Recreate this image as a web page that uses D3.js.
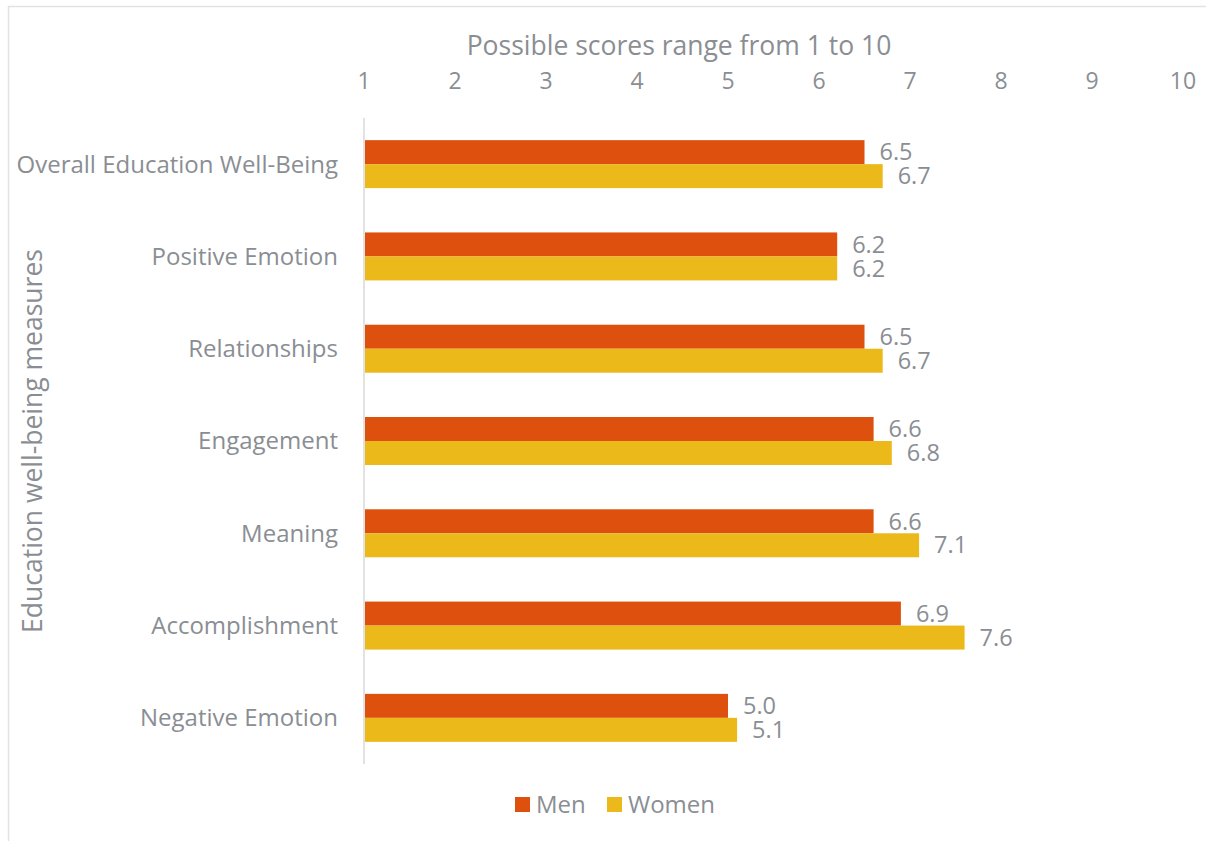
<!DOCTYPE html>
<html>
<head>
<meta charset="utf-8">
<script src="https://cdn.jsdelivr.net/npm/d3@7"></script>
<style>
  body { margin: 0; background: #fff; }
  svg { display: block; font-family: "Open Sans", sans-serif; }
  .lbl { fill: #8a8e93; }
</style>
</head>
<body>
<svg class="graphic" width="1206" height="841"></svg>
<script>
const categories = ["Overall Education Well-Being", "Positive Emotion", "Relationships",
  "Engagement", "Meaning", "Accomplishment", "Negative Emotion"];
const men = [6.5, 6.2, 6.5, 6.6, 6.6, 6.9, 5.0];
const women = [6.7, 6.2, 6.7, 6.8, 7.1, 7.6, 5.1];
const ticks = [1, 2, 3, 4, 5, 6, 7, 8, 9, 10];
const seriesNames = ["Men", "Women"];
const colors = ["#de500d", "#ebb91a"];

const $svg = d3.select('.graphic');

// outer frame
$svg.append('rect')
  .attr('x', 8.5).attr('y', 6.5)
  .attr('width', 1206).attr('height', 850)
  .attr('fill', 'none').attr('stroke', '#e2e2e2').attr('stroke-width', 1.5);

const x = d3.scaleLinear().domain([1, 10]).range([364, 1183]);
const y = d3.scaleBand().domain(categories).range([118, 764])
  .paddingInner(0.48).paddingOuter(0.24);
const ySub = d3.scaleBand().domain(seriesNames).range([0, y.bandwidth()]);

// top axis labels
$svg.append('g')
  .selectAll('text')
  .data(ticks)
  .join('text')
  .attr('class', 'lbl')
  .attr('x', d => x(d))
  .attr('y', 89)
  .attr('text-anchor', 'middle')
  .attr('font-size', 23)
  .text(d => d);

$svg.append('text')
  .attr('class', 'lbl')
  .attr('x', 679).attr('y', 55)
  .attr('text-anchor', 'middle')
  .attr('font-size', 26.5)
  .text('Possible scores range from 1 to 10');

// vertical axis line
$svg.append('line')
  .attr('x1', x(1)).attr('x2', x(1))
  .attr('y1', y.range()[0]).attr('y2', y.range()[1])
  .attr('stroke', '#d9d9d9').attr('stroke-width', 1.5);

// category labels
$svg.append('g')
  .selectAll('text')
  .data(categories)
  .join('text')
  .attr('class', 'lbl')
  .attr('x', 338)
  .attr('y', d => y(d) + y.bandwidth() / 2)
  .attr('dy', '0.35em')
  .attr('text-anchor', 'end')
  .attr('font-size', 24)
  .text(d => d);

$svg.append('text')
  .attr('class', 'lbl')
  .attr('transform', 'translate(42,441) rotate(-90)')
  .attr('text-anchor', 'middle')
  .attr('font-size', 26.5)
  .text('Education well-being measures');

// bars
const rows = categories.map((c, i) => ({ cat: c, vals: [men[i], women[i]] }));

const g = $svg.append('g')
  .selectAll('g')
  .data(rows)
  .join('g')
  .attr('transform', d => `translate(0,${y(d.cat)})`);

g.selectAll('rect')
  .data(d => d.vals.map((v, j) => ({ v, s: seriesNames[j], j })))
  .join('rect')
  .attr('x', x(1) + 1)
  .attr('y', d => ySub(d.s))
  .attr('width', d => x(d.v) - x(1) - 1)
  .attr('height', ySub.bandwidth())
  .attr('fill', d => colors[d.j]);

g.selectAll('text')
  .data(d => d.vals.map((v, j) => ({ v, s: seriesNames[j] })))
  .join('text')
  .attr('class', 'lbl')
  .attr('x', d => x(d.v) + 15)
  .attr('y', d => ySub(d.s) + ySub.bandwidth() / 2)
  .attr('dy', '0.35em')
  .attr('font-size', 23.5)
  .text(d => d3.format('.1f')(d.v));

// legend
const legX = [515, 607];
const leg = $svg.append('g')
  .selectAll('g')
  .data(seriesNames)
  .join('g')
  .attr('transform', (d, i) => `translate(${legX[i]},797)`);

leg.append('rect')
  .attr('width', 15).attr('height', 15)
  .attr('fill', (d, i) => colors[i]);

leg.append('text')
  .attr('class', 'lbl')
  .attr('x', 21).attr('y', 8)
  .attr('dy', '0.35em')
  .attr('font-size', 24)
  .text(d => d);
</script>
</body>
</html>
